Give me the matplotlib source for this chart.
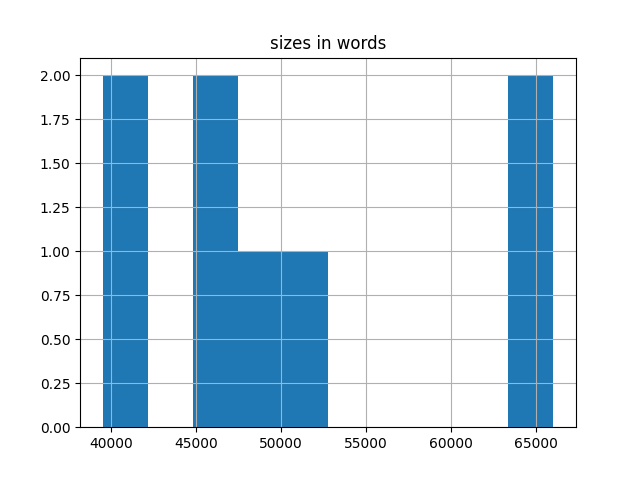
#!/usr/bin/env python3
import matplotlib
matplotlib.use("Agg")
import matplotlib.pyplot as plt
import pandas as pd

# word counts (10 bins)
titles = ["a", "b", "c", "d", "e", "f", "g", "h"]
sizes = [39510, 41200, 45300, 46900, 48800, 51600, 64700, 66030]


def main():
    df = pd.DataFrame({"title": titles, "sizes in words": sizes})
    fig, ax = plt.subplots(figsize=(6.4, 4.8), dpi=100)
    df.hist(column="sizes in words", bins=10, ax=ax)
    fig.savefig("out.png")


if __name__ == "__main__":
    main()
